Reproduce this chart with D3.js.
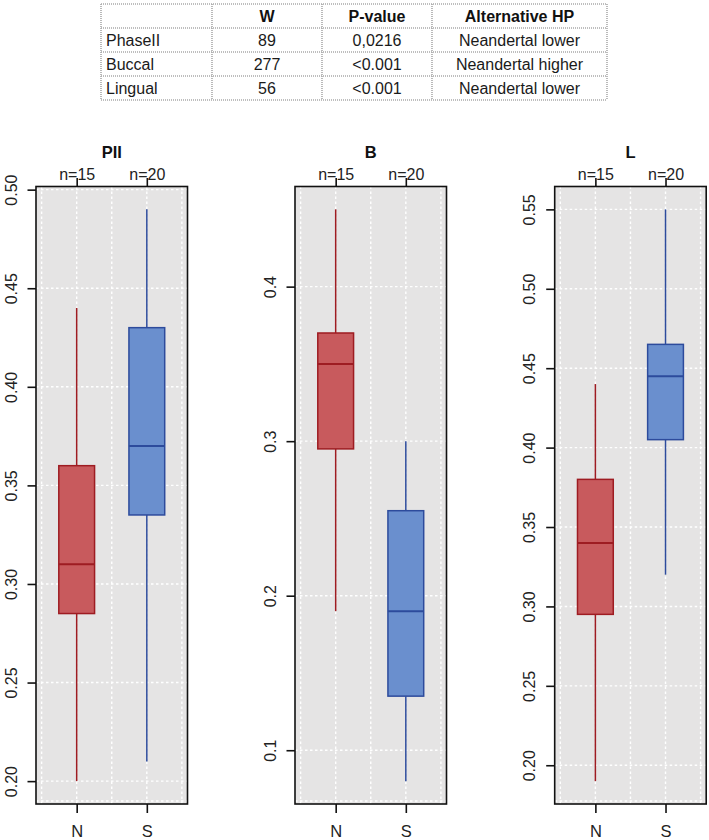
<!DOCTYPE html>
<html><head><meta charset="utf-8">
<script src="https://cdn.jsdelivr.net/npm/d3@7"></script>
<style>body{margin:0;background:#fff}svg{display:block}</style>
</head><body><svg id="c" width="709" height="840"></svg>
<script>
// ---- data ----
const panelTitles = ["PII", "B", "L"];
const groups = ["N", "S"];
const groupCounts = [15, 20];
// [lower whisker, Q1, median, Q3, upper whisker]
const piiN = [0.20, 0.285, 0.31, 0.36, 0.44];
const piiS = [0.21, 0.335, 0.37, 0.43, 0.49];
const bN = [0.19, 0.295, 0.35, 0.37, 0.45];
const bS = [0.08, 0.135, 0.19, 0.255, 0.30];
const lN = [0.19, 0.295, 0.34, 0.38, 0.44];
const lS = [0.32, 0.405, 0.445, 0.465, 0.55];
const piiTicks = [0.20, 0.25, 0.30, 0.35, 0.40, 0.45, 0.50];
const bTicks = [0.1, 0.2, 0.3, 0.4];
const lTicks = [0.20, 0.25, 0.30, 0.35, 0.40, 0.45, 0.50, 0.55];
const tickDigits = [2, 1, 2];

const tableHeader = ["", "W", "P-value", "Alternative HP"];
const tableRows = ["PhaseII", "Buccal", "Lingual"];
const tableW = [89, 277, 56];
const tableP = ["0,0216", "<0.001", "<0.001"];
const tableAlt = ["Neandertal lower", "Neandertal higher", "Neandertal lower"];

// ---- drawing ----
(function () {
const svg = d3.select("#c");
const font = "'Liberation Sans', Arial, Helvetica, sans-serif";

// table
const colEdges = [101, 212, 322, 432, 607];
const rowEdges = [4, 28, 52, 76, 100];
const tbl = svg.append("g");
const tblStroke = "#a9a9a9";
colEdges.forEach(cx => tbl.append("line").attr("x1", cx).attr("x2", cx)
  .attr("y1", rowEdges[0]).attr("y2", rowEdges[rowEdges.length - 1])
  .attr("stroke", tblStroke).attr("stroke-width", 1.6).attr("stroke-dasharray", "1,1"));
rowEdges.forEach(ry => tbl.append("line").attr("y1", ry).attr("y2", ry)
  .attr("x1", colEdges[0]).attr("x2", colEdges[colEdges.length - 1])
  .attr("stroke", tblStroke).attr("stroke-width", 1.6).attr("stroke-dasharray", "1,1"));
const colCenter = i => (colEdges[i] + colEdges[i + 1]) / 2;
const rowBase = r => (rowEdges[r] + rowEdges[r + 1]) / 2 + 5.8;
tableHeader.forEach((h, i) => {
  if (!h) return;
  tbl.append("text").attr("x", colCenter(i)).attr("y", rowBase(0))
    .attr("text-anchor", "middle").attr("font-family", font).attr("font-size", 16)
    .attr("font-weight", "bold").attr("fill", "#111").text(h);
});
const tableCells = tableRows.map((r, j) => [r, String(tableW[j]), tableP[j], tableAlt[j]]);
tableCells.forEach((row, j) => {
  row.forEach((v, i) => {
    const t = tbl.append("text").attr("y", rowBase(j + 1))
      .attr("font-family", font).attr("font-size", 16).attr("fill", "#1a1a1a").text(v);
    if (i === 0) t.attr("x", colEdges[0] + 5).attr("text-anchor", "start");
    else t.attr("x", colCenter(i)).attr("text-anchor", "middle");
  });
});

// panels
const panels = [
  { title: panelTitles[0], n: piiN, s: piiS, ticks: piiTicks, digits: tickDigits[0] },
  { title: panelTitles[1], n: bN, s: bS, ticks: bTicks, digits: tickDigits[1] },
  { title: panelTitles[2], n: lN, s: lS, ticks: lTicks, digits: tickDigits[2] }
];
const panelLeft = [36, 295, 554.7];
const pw = 151.5, plotTop = 186.5, plotBottom = 804;
const fills = ["#C85A5D", "#6A8FCE"];
const strokes = ["#9E1C22", "#2D4B9C"];
const gridX = [0.5, 1, 1.5, 2, 2.5];

panels.forEach((p, i) => {
  const L = panelLeft[i];
  const g = svg.append("g");
  const x = d3.scaleLinear().domain([0.42, 2.58]).range([L, L + pw]);
  const lo = Math.min(p.n[0], p.s[0]), hi = Math.max(p.n[4], p.s[4]);
  const pad = (hi - lo) * 0.04;
  const y = d3.scaleLinear().domain([lo - pad, hi + pad]).range([plotBottom, plotTop]);

  g.append("rect").attr("x", L).attr("y", plotTop).attr("width", pw).attr("height", plotBottom - plotTop)
    .attr("fill", "#E5E4E4");
  // grid
  const gridStyle = s => s.attr("stroke", "#fff").attr("stroke-width", 1.4).attr("stroke-dasharray", "2.5,2.5");
  gridX.forEach(v => gridStyle(g.append("line").attr("x1", x(v)).attr("x2", x(v)).attr("y1", plotTop).attr("y2", plotBottom)));
  p.ticks.forEach(v => gridStyle(g.append("line").attr("y1", y(v)).attr("y2", y(v)).attr("x1", L).attr("x2", L + pw)));
  gridStyle(g.append("line").attr("y1", plotBottom - 3).attr("y2", plotBottom - 3).attr("x1", L).attr("x2", L + pw));

  // boxes
  [p.n, p.s].forEach((d, k) => {
    const cx = x(k + 1), hw = x(1.255) - x(1);
    g.append("line").attr("x1", cx).attr("x2", cx).attr("y1", y(d[0])).attr("y2", y(d[1]))
      .attr("stroke", strokes[k]).attr("stroke-width", 1.5);
    g.append("line").attr("x1", cx).attr("x2", cx).attr("y1", y(d[3])).attr("y2", y(d[4]))
      .attr("stroke", strokes[k]).attr("stroke-width", 1.5);
    g.append("rect").attr("x", cx - hw).attr("width", 2 * hw)
      .attr("y", y(d[3])).attr("height", y(d[1]) - y(d[3]))
      .attr("fill", fills[k]).attr("stroke", strokes[k]).attr("stroke-width", 1.5);
    g.append("line").attr("x1", cx - hw).attr("x2", cx + hw).attr("y1", y(d[2])).attr("y2", y(d[2]))
      .attr("stroke", strokes[k]).attr("stroke-width", 2);
  });

  // frame
  g.append("rect").attr("x", L).attr("y", plotTop).attr("width", pw).attr("height", plotBottom - plotTop)
    .attr("fill", "none").attr("stroke", "#111").attr("stroke-width", 1.6);

  // left axis
  const ya = g.append("g").attr("transform", `translate(${L},0)`)
    .call(d3.axisLeft(y).tickValues(p.ticks).tickSize(8.5).tickFormat(d3.format("." + p.digits + "f")));
  ya.select(".domain").remove();
  ya.selectAll("line").attr("stroke", "#111").attr("stroke-width", 1.6);
  ya.selectAll("text").attr("transform", "rotate(-90)").attr("x", 0).attr("y", -19.5).attr("dy", 0)
    .attr("text-anchor", "middle").attr("font-family", font).attr("font-size", 16).attr("fill", "#222");

  // top axis (counts)
  const ta = g.append("g").attr("transform", `translate(0,${plotTop})`)
    .call(d3.axisTop(x).tickValues([1, 2]).tickSize(8.5).tickFormat((d, j) => "n=" + groupCounts[j]));
  ta.select(".domain").remove();
  ta.selectAll("line").attr("stroke", "#111").attr("stroke-width", 1.6);
  ta.selectAll("text").attr("y", -7).attr("dy", 0).attr("font-family", font).attr("font-size", 16).attr("fill", "#222");

  // bottom axis (groups)
  const ba = g.append("g").attr("transform", `translate(0,${plotBottom})`)
    .call(d3.axisBottom(x).tickValues([1, 2]).tickSize(9).tickFormat((d, j) => groups[j]));
  ba.select(".domain").remove();
  ba.selectAll("line").attr("stroke", "#111").attr("stroke-width", 1.6);
  ba.selectAll("text").attr("y", 32.5).attr("dy", 0).attr("font-family", font).attr("font-size", 16.5).attr("fill", "#222");

  // title
  g.append("text").attr("x", L + pw / 2).attr("y", 157.7).attr("text-anchor", "middle")
    .attr("font-family", font).attr("font-size", 16.5).attr("font-weight", "bold").attr("fill", "#111")
    .text(p.title);
});
})();
</script></body></html>
